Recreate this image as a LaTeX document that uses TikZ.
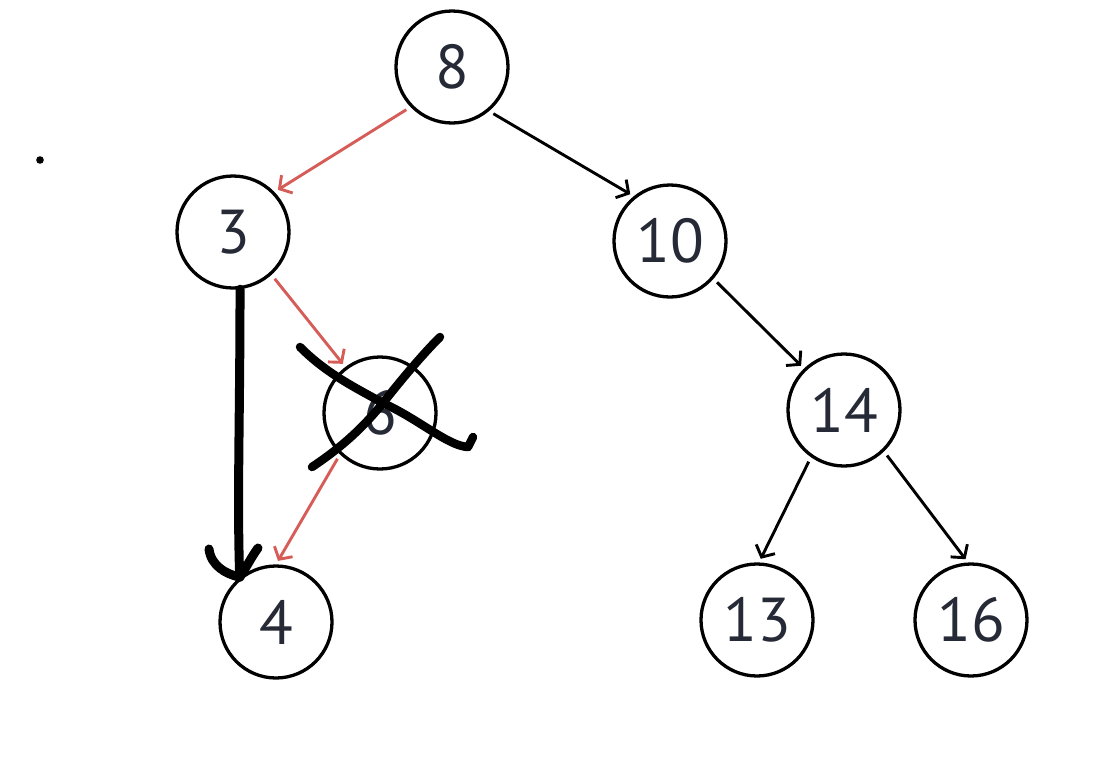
\documentclass[tikz,border=0pt]{standalone}
\usepackage{fontspec}
\setmainfont{PT Sans}
\usepackage{tikz}
\usepackage{xcolor}
\usetikzlibrary{arrows.meta,calc}
\definecolor{bstInk}{RGB}{38,42,54}
\definecolor{bstRed}{RGB}{214,92,88}
\newcommand{\bstnode}[3]{%
  \node[bstcircle] (#1) at (#2) {\raisebox{-4pt}{#3}};
}
\begin{document}
\begin{tikzpicture}[x=1pt,y=-1pt,
  bstcircle/.style={circle,draw=black,line width=3.3pt,minimum size=112pt,inner sep=0pt,
    font=\fontsize{62}{66}\selectfont\color{bstInk}},
  bstedge/.style={line width=2.9pt,-{Straight Barb[length=9pt,width=21pt]},shorten <=5pt,shorten >=4pt},
  handstroke/.style={line width=9pt,line cap=round,line join=round}]
  \useasboundingbox (0,0) rectangle (1101,782);
  \bstnode{n8}{452,67}{8}
  \bstnode{n3}{233,232}{3}
  \bstnode{n10}{670,241}{10}
  \bstnode{n6}{380,413}{6}
  \bstnode{n14}{844,410}{14}
  \bstnode{n4}{276,622}{4}
  \bstnode{n13}{757,620}{13}
  \bstnode{n16}{971,620}{16}
  \fill (40,160) circle (3.8pt);
  % tree edges
  \draw[bstedge,draw=bstRed] (n8.224) -- (n3.44);
  \draw[bstedge] (n8.310) -- (n10.129);
  \draw[bstedge,draw=bstRed] (n3.312) -- (n6.127);
  \draw[bstedge,draw=bstRed] (n6.226) -- (n4.90);
  \draw[bstedge] (n10.319) -- (n14.134);
  \draw[bstedge] (n14.235) -- (n13.88);
  \draw[bstedge] (n14.314) -- (n16.93);
  % hand drawn marks
  \coordinate (hookL) at (209,549);
  \coordinate (hookR) at (258,548);
  \draw[handstroke] (n3.-83) .. controls (240,420) and (237,500) .. (n4.129);
  \draw[handstroke] (hookL) .. controls (211,566) and (226,574) .. (n4.129)
    .. controls (246,568) and (252,556) .. (hookR);
  \draw[handstroke,line width=8.5pt] (300,347) .. controls (325,372) and (350,385) .. (383,403)
    .. controls (420,420) and (448,446) .. (468,447) -- (473,437);
  \draw[handstroke,line width=8.5pt] (312,467) .. controls (345,445) and (365,425) .. (383,403)
    .. controls (405,375) and (425,352) .. (440,337);
\end{tikzpicture}
\end{document}
